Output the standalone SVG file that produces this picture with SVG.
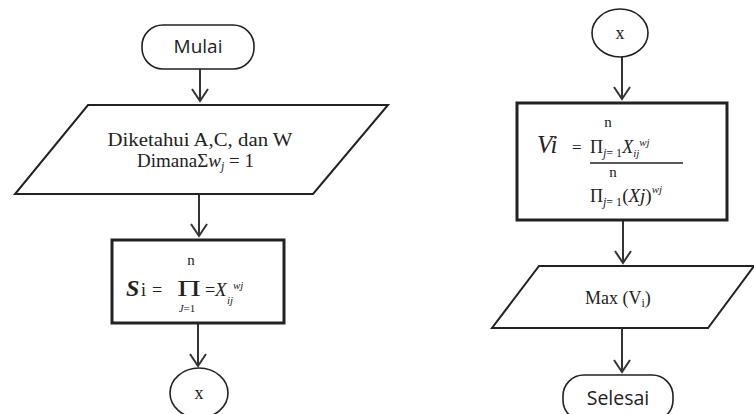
<svg xmlns="http://www.w3.org/2000/svg" width="754" height="414" viewBox="0 0 754 414">
  <style>
    .bg { fill: #ffffff; }
    .term { fill: #ffffff; stroke: #222; stroke-width: 1.6; }
    .io { fill: #ffffff; stroke: #222; stroke-width: 2; }
    .proc { fill: #ffffff; stroke: #222; stroke-width: 3; }
    .conn { fill: #ffffff; stroke: #222; stroke-width: 1.6; }
    .edge { fill: none; stroke: #333; stroke-width: 2; stroke-linejoin: miter; }
    .sans { font-family: "Open Sans", "Liberation Sans", sans-serif; fill: #222; }
    .serif { font-family: "Liberation Serif", "Times New Roman", serif; fill: #222; }
    .it { font-style: italic; }
  </style>

  <rect class="bg" x="0" y="0" width="754" height="414"/>

  <!-- connectors: shaft plus open V head -->
  <g id="connectors">
    <path class="edge" d="M200,69 V101 M192,89 L200,101 L208,89"/>
    <path class="edge" d="M199,194 V236 M191,224 L199,236 L207,224"/>
    <path class="edge" d="M198,323 V366 M190,354 L198,366 L206,354"/>
    <path class="edge" d="M622,57 V99 M614,87 L622,99 L630,87"/>
    <path class="edge" d="M623,220 V263 M615,251 L623,263 L631,251"/>
    <path class="edge" d="M622,328 V372 M614,360 L622,372 L630,360"/>
  </g>

  <!-- left column -->
  <g id="mulai">
    <rect class="term" x="142" y="25" width="112" height="44" rx="21" ry="21"/>
    <text class="sans" x="198" y="53" font-size="19" text-anchor="middle">Mulai</text>
  </g>

  <g id="input-data">
    <polygon class="io" points="88,105 388,105 313,194 15,194"/>
    <text class="serif" x="200" y="146" font-size="18" text-anchor="middle" textLength="185" lengthAdjust="spacingAndGlyphs">Diketahui A,C, dan W</text>
    <text class="serif" x="137" y="167" font-size="19">Dimana<tspan>Σ</tspan><tspan class="it">w</tspan><tspan class="it" font-size="12" dy="3">j</tspan><tspan dy="-3"> = 1</tspan></text>
  </g>

  <g id="hitung-s">
    <rect class="proc" x="112" y="240" width="172" height="83"/>
    <text class="serif" x="191" y="265" font-size="15" text-anchor="middle">n</text>
    <text class="serif it" x="126" y="296" font-size="24" font-weight="bold">S</text>
    <text class="serif" x="141" y="296" font-size="18">i</text>
    <text class="serif" x="152" y="296" font-size="18">=</text>
    <text class="serif" x="189" y="296" font-size="23" text-anchor="middle" textLength="24" lengthAdjust="spacingAndGlyphs">Π</text>
    <text class="serif" x="187" y="312" font-size="11" text-anchor="middle"><tspan class="it">J</tspan>=1</text>
    <text class="serif" x="205" y="296" font-size="18">=</text>
    <text class="serif it" x="215" y="296" font-size="19">X</text>
    <text class="serif it" x="227" y="304" font-size="11">ij</text>
    <text class="serif it" x="233" y="289" font-size="11">wj</text>
  </g>

  <g id="konektor-x-1">
    <ellipse class="conn" cx="199" cy="393" rx="29" ry="25"/>
    <text class="serif" x="199" y="399" font-size="18" text-anchor="middle">x</text>
  </g>

  <!-- right column -->
  <g id="konektor-x-2">
    <ellipse class="conn" cx="620" cy="33" rx="28" ry="24"/>
    <text class="serif" x="620" y="39" font-size="18" text-anchor="middle">x</text>
  </g>

  <g id="hitung-v">
    <rect class="proc" x="517" y="103" width="210" height="117"/>
    <text class="serif" x="608" y="127" font-size="15" text-anchor="middle">n</text>
    <text class="serif it" x="537" y="153" font-size="25">Vi</text>
    <text class="serif" x="572" y="153" font-size="17">=</text>
    <text class="serif" x="590" y="153" font-size="18">Π<tspan class="it" font-size="12" dy="4">j</tspan><tspan font-size="12">= 1</tspan><tspan class="it" dy="-4" font-size="18">X</tspan><tspan class="it" font-size="11" dy="4">ij</tspan><tspan class="it" font-size="11" dy="-11">wj</tspan></text>
    <line x1="590" y1="163" x2="683" y2="163" stroke="#222" stroke-width="1.6"/>
    <text class="serif" x="613" y="177" font-size="15" text-anchor="middle">n</text>
    <text class="serif" x="590" y="202" font-size="18">Π<tspan class="it" font-size="12" dy="4">j</tspan><tspan font-size="12">= 1</tspan><tspan dy="-4" font-size="19">(</tspan><tspan class="it" font-size="19">Xj</tspan><tspan font-size="19">)</tspan><tspan class="it" font-size="11" dy="-9">wj</tspan></text>
  </g>

  <g id="output-max">
    <polygon class="io" points="539,266 754,266 708,328 492,328"/>
    <text class="serif" x="585" y="304" font-size="18">Max (V<tspan font-size="12" dy="3">i</tspan><tspan dy="-3">)</tspan></text>
  </g>

  <g id="selesai">
    <rect class="term" x="563" y="375" width="110" height="46" rx="21" ry="21"/>
    <text class="sans" x="618" y="405" font-size="19.5" text-anchor="middle">Selesai</text>
  </g>
</svg>
